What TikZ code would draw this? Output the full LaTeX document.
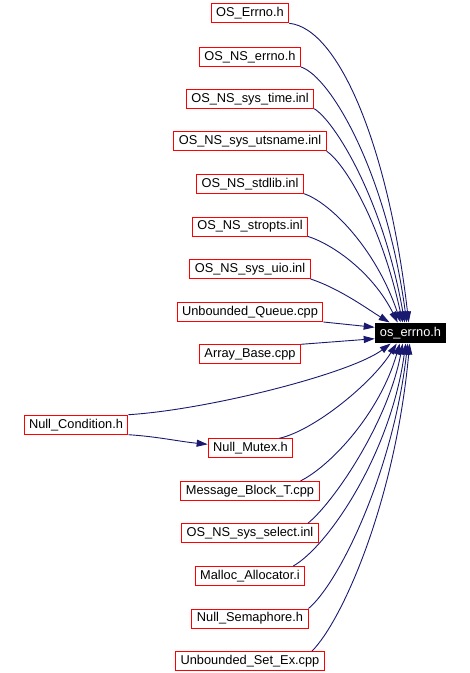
\documentclass[tikz,border=0pt]{standalone}
\usepackage{fontspec}
\setmainfont{Liberation Sans}
\usetikzlibrary{arrows.meta}
\definecolor{edgeblue}{HTML}{191970}
\definecolor{boxred}{HTML}{FF0000}

\begin{document}
\begin{tikzpicture}[
    x=1pt, y=-1pt,
    incl/.style={draw=boxred, fill=white, line width=1pt, inner xsep=5pt,
                 inner ysep=0pt, minimum height=19pt,
                 font=\fontsize{12.8}{14}\selectfont},
    self/.style={fill=black, text=white, inner xsep=5pt, inner ysep=0pt,
                 minimum height=20.6pt, font=\fontsize{12.8}{14}\selectfont},
    arrow/.style={draw=edgeblue, line width=0.9pt,
                  -{Triangle[length=11pt, width=7pt]}},
]
\useasboundingbox (0,0) rectangle (470,673);

% Included header
\node[self] (oserrno) at (410.5, 333) {os\_errno.h};

% Files above
\node[incl] (errno)   at (250, 13.3)  {OS\_Errno.h};
\node[incl] (nserrno) at (250, 57)    {OS\_NS\_errno.h};
\node[incl] (systime) at (250, 98.7)  {OS\_NS\_sys\_time.inl};
\node[incl] (utsname) at (250, 141.2) {OS\_NS\_sys\_utsname.inl};
\node[incl] (stdlib)  at (250, 183.7) {OS\_NS\_stdlib.inl};
\node[incl] (stropts) at (250, 226.5) {OS\_NS\_stropts.inl};
\node[incl] (sysuio)  at (250, 269)   {OS\_NS\_sys\_uio.inl};
\node[incl] (queue)   at (250, 312)   {Unbounded\_Queue.cpp};
\node[incl] (arrbase) at (250, 354.3) {Array\_Base.cpp};

% Condition / mutex
\node[incl] (nullcond)  at (76, 424.7)   {Null\_Condition.h};
\node[incl] (nullmutex) at (250.5, 448.3) {Null\_Mutex.h};

% Files below
\node[incl] (msgblock) at (250, 490.9) {Message\_Block\_T.cpp};
\node[incl] (sysselect) at (250, 533.3) {OS\_NS\_sys\_select.inl};
\node[incl] (malloc)   at (250, 576)   {Malloc\_Allocator.i};
\node[incl] (nullsem)  at (250, 618.5) {Null\_Semaphore.h};
\node[incl] (setex)    at (250, 661.2) {Unbounded\_Set\_Ex.cpp};

% Edges from above
\draw[arrow] (errno.south east) .. controls +(50,5) and +(-20,-174) .. ([xshift=34pt]oserrno.north west);
\draw[arrow] (nserrno.south east) .. controls +(30,10) and +(-20,-149) .. ([xshift=32pt]oserrno.north west);
\draw[arrow] (systime.south east) .. controls +(20,12) and +(-22,-125) .. ([xshift=30pt]oserrno.north west);
\draw[arrow] (utsname.south east) .. controls +(18,12) and +(-22,-100) .. ([xshift=28pt]oserrno.north west);
\draw[arrow] (stdlib.south east) .. controls +(25,8) and +(-25,-75) .. ([xshift=26pt]oserrno.north west);
\draw[arrow] (stropts.south east) .. controls +(25,8) and +(-25,-50) .. ([xshift=23pt]oserrno.north west);
\draw[arrow] (sysuio.south east) .. controls +(30,10) and +(-20,-12) .. ([xshift=15pt]oserrno.north west);
\draw[arrow] (queue.south east) -- ([yshift=-4.8pt]oserrno.north west);
\draw[arrow] (arrbase.north east) -- ([yshift=4.8pt]oserrno.south west);

% Edges from condition / mutex
\draw[arrow] (nullcond.north east) .. controls +(80,-5) and +(-40,30) .. ([xshift=16pt]oserrno.south west);
\draw[arrow] (nullcond.south east) .. controls +(30,2) and +(-30,-3) .. ([yshift=4pt]nullmutex.west);
\draw[arrow] ([xshift=-14pt]nullmutex.north east) .. controls +(35,-8) and +(-25,40) .. ([xshift=22pt]oserrno.south west);

% Edges from below
\draw[arrow] ([xshift=-19pt]msgblock.north east) .. controls +(30,-15) and +(-20,70) .. ([xshift=25pt]oserrno.south west);
\draw[arrow] ([xshift=-11pt]sysselect.north east) .. controls +(25,-20) and +(-15,80) .. ([xshift=28pt]oserrno.south west);
\draw[arrow] ([xshift=-12pt]malloc.north east) .. controls +(35,-20) and +(-15,110) .. ([xshift=31pt]oserrno.south west);
\draw[arrow] (nullsem.north east) .. controls +(30,-25) and +(-15,130) .. ([xshift=33pt]oserrno.south west);
\draw[arrow] ([xshift=-13pt]setex.north east) .. controls +(30,-30) and +(-15,160) .. ([xshift=35pt]oserrno.south west);

\end{tikzpicture}
\end{document}
